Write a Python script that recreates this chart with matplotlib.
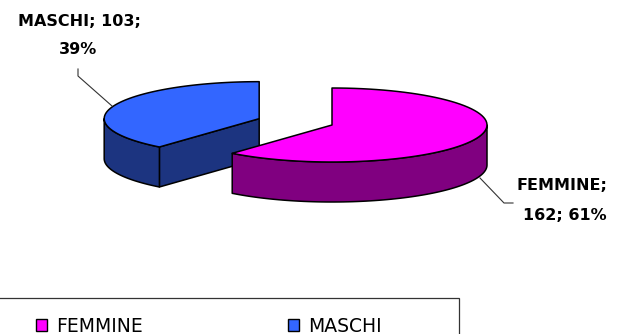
import numpy as np
import matplotlib.pyplot as plt
from matplotlib.patches import Polygon, Patch, Rectangle

# Distribuzione per sesso
categorie = ['FEMMINE', 'MASCHI']
valori = [162, 103]
colori_top = ['#FF00FF', '#3366FF']
colori_lato = ['#800080', '#1C3480']
esplodi = [0.0, 0.5]

# geometria della torta 3D (pixel)
CX, CY = 332, 125
A, B = 155, 37
DEPTH = 40

fig = plt.figure(figsize=(6.19, 3.34), dpi=100)
ax = fig.add_axes([0, 0, 1, 1])
ax.set_xlim(0, 619)
ax.set_ylim(334, 0)
ax.axis('off')

totale = sum(valori)
frazioni = [v / totale for v in valori]
limiti = np.concatenate([[0], np.cumsum(frazioni)]) * 2 * np.pi


def punto(cx, cy, t):
    return cx + A * np.sin(t), cy - B * np.cos(t)


def arco(cx, cy, t0, t1, dy=0):
    t = np.linspace(t0, t1, 80)
    return np.column_stack([cx + A * np.sin(t), cy - B * np.cos(t) + dy])


fette = []
for i in range(len(valori)):
    t0, t1 = limiti[i], limiti[i + 1]
    m = (t0 + t1) / 2
    cx = CX + esplodi[i] * A * np.sin(m)
    cy = CY - esplodi[i] * B * np.cos(m)
    fette.append((i, t0, t1, cx, cy))

# si disegna prima la fetta esplosa (dietro), poi quella principale
for i, t0, t1, cx, cy in reversed(fette):
    kw = dict(edgecolor='black', linewidth=1.1, joinstyle='round')
    # facce radiali visibili
    if np.sin(t0) < 0:
        px, py = punto(cx, cy, t0)
        ax.add_patch(Polygon([(cx, cy), (px, py), (px, py + DEPTH), (cx, cy + DEPTH)],
                             facecolor=colori_lato[i], **kw))
    if np.sin(t1) > 0:
        px, py = punto(cx, cy, t1)
        ax.add_patch(Polygon([(cx, cy), (px, py), (px, py + DEPTH), (cx, cy + DEPTH)],
                             facecolor=colori_lato[i], **kw))
    # parete esterna visibile (parte frontale)
    a0, a1 = max(t0, np.pi / 2), min(t1, 3 * np.pi / 2)
    if a1 > a0:
        sopra = arco(cx, cy, a0, a1)
        sotto = arco(cx, cy, a1, a0, DEPTH)
        ax.add_patch(Polygon(np.vstack([sopra, sotto]), facecolor=colori_lato[i], **kw))
    # superficie superiore
    top = np.vstack([[cx, cy], arco(cx, cy, t0, t1)])
    ax.add_patch(Polygon(top, facecolor=colori_top[i], **kw))

# etichette con linee guida
fnt = dict(fontsize=11.5, fontweight='bold', color='black', family='DejaVu Sans')
perc = [round(f * 100) for f in frazioni]

ax.plot([480, 504, 513], [178, 203, 203], color='#333333', lw=0.8)
ax.text(516, 186, f'{categorie[0]};', ha='left', va='center', **fnt)
ax.text(565, 216, f'{valori[0]}; {perc[0]}%', ha='center', va='center', **fnt)

ax.plot([78, 78, 112], [69, 76, 106], color='#333333', lw=0.8)
ax.text(79, 22, f'{categorie[1]}; {valori[1]};', ha='center', va='center', **fnt)
ax.text(78, 50, f'{perc[1]}%', ha='center', va='center', **fnt)

# legenda
ax.add_patch(Rectangle((-5, 298), 464, 50, facecolor='white', edgecolor='#333333',
                       linewidth=0.9, clip_on=True))
handles = [Patch(facecolor=colori_top[i], edgecolor='black', linewidth=1.0, label=categorie[i])
           for i in range(len(categorie))]
leg = ax.legend(handles=handles, ncol=2, loc='center left',
                bbox_to_anchor=(36 / 619, 1 - 326 / 334), bbox_transform=ax.transAxes,
                frameon=False, fontsize=13.5, handlelength=0.6, handleheight=0.6,
                handletextpad=0.5, columnspacing=7.7, borderpad=0, borderaxespad=0)

fig.savefig('out.png', dpi=100)
